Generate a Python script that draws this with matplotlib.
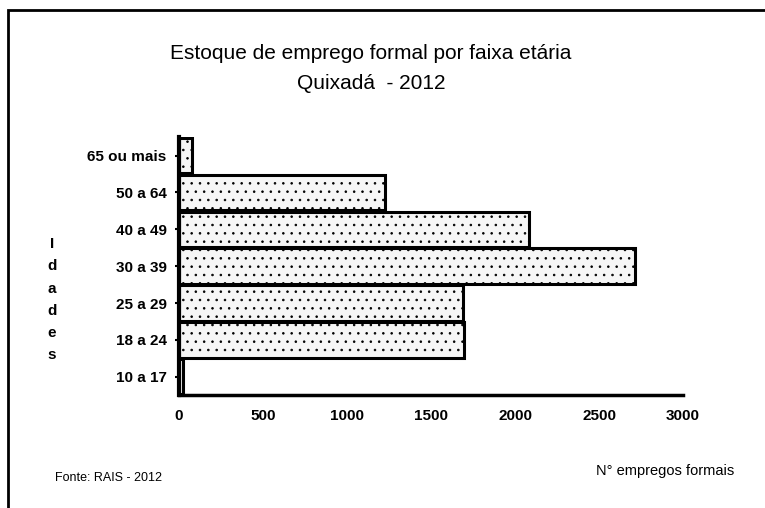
import matplotlib.pyplot as plt
from matplotlib.patches import Rectangle

# faixas etárias, de baixo para cima
faixas = ["10 a 17", "18 a 24", "25 a 29", "30 a 39", "40 a 49", "50 a 64", "65 ou mais"]
empregos = [25, 1695, 1690, 2715, 2085, 1225, 80]
x_ticks = [0, 500, 1000, 1500, 2000, 2500, 3000]

plt.rcParams["font.family"] = ["Liberation Sans", "DejaVu Sans"]
plt.rcParams["hatch.color"] = "#b5b5b5"
plt.rcParams["hatch.linewidth"] = 0.6

fig = plt.figure(figsize=(7.65, 5.08), dpi=100)
ax = fig.add_axes([0.234, 0.222, 0.659, 0.508])

ax.barh(faixas, empregos, height=0.96, color="#f6f6f6", edgecolor="black",
        linewidth=2.2, hatch="..")

ax.set_xlim(0, 3000)
ax.set_ylim(-0.5, 6.5)
ax.set_xticks(x_ticks)
ax.set_xticklabels([str(t) for t in x_ticks], fontsize=11, fontweight="bold")
ax.tick_params(axis="x", length=0, pad=10)
ax.tick_params(axis="y", length=3, width=1.5, labelsize=11, pad=6)
for lab in ax.get_yticklabels():
    lab.set_fontweight("bold")

for side in ["top", "right"]:
    ax.spines[side].set_visible(False)
ax.spines["left"].set_linewidth(3)
ax.spines["bottom"].set_linewidth(2.5)

# rótulo vertical com letras empilhadas
fig.text(0.068, 0.41, "I\nd\na\nd\ne\ns", ha="center", va="center",
         fontsize=11, fontweight="bold", linespacing=1.75)

fig.text(0.485, 0.895, "Estoque de emprego formal por faixa etária",
         ha="center", va="center", fontsize=15)
fig.text(0.485, 0.835, "Quixadá  - 2012", ha="center", va="center", fontsize=15)

fig.text(0.072, 0.06, "Fonte: RAIS - 2012", ha="left", va="center", fontsize=9)
fig.text(0.96, 0.072, "N° empregos formais", ha="right", va="center", fontsize=10.5)

# moldura da figura
fig.patches.append(Rectangle((0.011, -0.05), 1.2, 1.03, transform=fig.transFigure,
                             fill=False, edgecolor="black", linewidth=2))

fig.savefig("out.png", dpi=100)
